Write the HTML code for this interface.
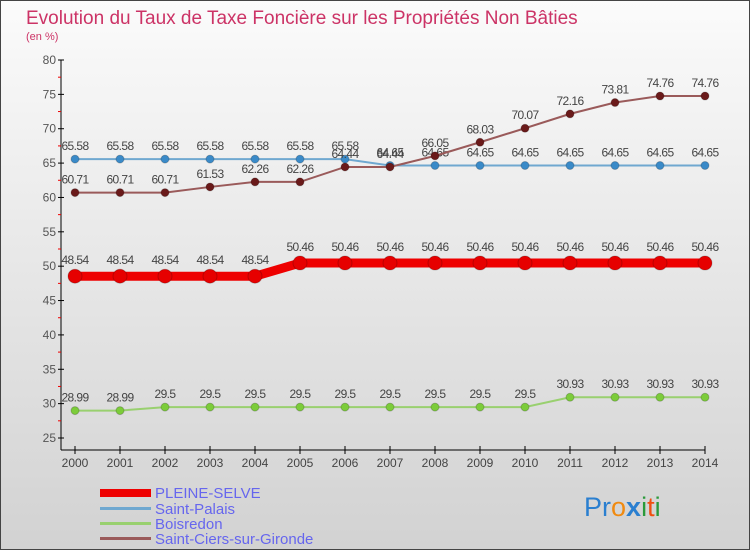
<!DOCTYPE html>
<html><head><meta charset="utf-8"><style>
html,body{margin:0;padding:0}
body{width:750px;height:550px;overflow:hidden;font-family:"Liberation Sans",sans-serif}
</style></head><body>
<svg width="750" height="550" xmlns="http://www.w3.org/2000/svg">
<defs><linearGradient id="bg" x1="0" y1="0" x2="0" y2="1"><stop offset="0" stop-color="#fbfbfb"/><stop offset="1" stop-color="#d2d2d2"/></linearGradient></defs>
<rect x="0.5" y="0.5" width="749" height="549" fill="url(#bg)" stroke="#444"/>
<text x="26" y="24" font-size="19" fill="#cc3366">Evolution du Taux de Taxe Foncière sur les Propriétés Non Bâties</text>
<text x="26" y="40" font-size="11" fill="#cc3366">(en %)</text>
<g id="axes"></g>
<g id="series"></g>
<g>
<rect x="100" y="489" width="51" height="8" fill="#ee0000"/>
<text x="155" y="498" font-size="15" fill="#6666ee">PLEINE-SELVE</text>
<rect x="100" y="507" width="51" height="3" fill="#6fa8d0"/>
<text x="155" y="514" font-size="15" fill="#6666ee">Saint-Palais</text>
<rect x="100" y="522" width="51" height="3" fill="#99d06f"/>
<text x="155" y="529" font-size="15" fill="#6666ee">Boisredon</text>
<rect x="100" y="537" width="51" height="3" fill="#9a5a5a"/>
<text x="155" y="544" font-size="15" fill="#6666ee">Saint-Ciers-sur-Gironde</text>
</g>
<text x="584" y="516" font-size="27"><tspan fill="#2a7fd0">Pr</tspan><tspan fill="#f08a10">o</tspan><tspan fill="#2a7fd0" font-weight="bold">x</tspan><tspan fill="#2a9a3a">i</tspan><tspan fill="#f05010">t</tspan><tspan fill="#2a9a3a">i</tspan></text>
</svg>
<script>
const years=[2000,2001,2002,2003,2004,2005,2006,2007,2008,2009,2010,2011,2012,2013,2014];
const pleineSelve=[48.54,48.54,48.54,48.54,48.54,50.46,50.46,50.46,50.46,50.46,50.46,50.46,50.46,50.46,50.46];
const saintPalais=[65.58,65.58,65.58,65.58,65.58,65.58,65.58,64.65,64.65,64.65,64.65,64.65,64.65,64.65,64.65];
const boisredon=[28.99,28.99,29.5,29.5,29.5,29.5,29.5,29.5,29.5,29.5,29.5,30.93,30.93,30.93,30.93];
const saintCiers=[60.71,60.71,60.71,61.53,62.26,62.26,64.44,64.44,66.05,68.03,70.07,72.16,73.81,74.76,74.76];
const yTicks=[25,30,35,40,45,50,55,60,65,70,75,80];
const NS="http://www.w3.org/2000/svg";
const x=i=>75+i*45;
const y=v=>60+(80-v)*378/55;
function mk(t,a,p){const e=document.createElementNS(NS,t);for(const k in a)e.setAttribute(k,a[k]);p.appendChild(e);return e;}
const ax=document.getElementById('axes');
const yl=mk('line',{x1:61,y1:60,x2:61,y2:450,stroke:'#000'},ax);


const xl=mk('line',{x1:61,y1:450,x2:x(14),y2:450,stroke:'#000'},ax);


yTicks.forEach(v=>{
  mk('line',{x1:58,y1:y(v),x2:64,y2:y(v),stroke:'#000'},ax);
  if(v<80) mk('line',{x1:58,y1:y(v+2.5),x2:61,y2:y(v+2.5),stroke:'#e00'},ax);
  const t=mk('text',{x:56,y:y(v)+4,'font-size':12,'text-anchor':'end',fill:'#555'},ax);
  t.textContent=v;
  
  
});
years.forEach((yr,i)=>{
  mk('line',{x1:x(i),y1:446,x2:x(i),y2:454,stroke:'#000'},ax);
  const t=mk('text',{x:x(i),y:467,'font-size':12,'text-anchor':'middle',fill:'#444'},ax);
  t.textContent=yr;
  
  
});
const sg=document.getElementById('series');
function series(vals,name,col,dot,w,r){
  const g=mk('g',{},sg);
  
  
  const pl=mk('polyline',{points:vals.map((v,i)=>x(i)+','+y(v)).join(' '),fill:'none',stroke:col,'stroke-width':w},g);
  
  
  vals.forEach((v,i)=>{
    const c=mk('circle',{cx:x(i),cy:y(v),r:r,fill:dot,stroke:'rgba(0,0,0,0.2)'},g);
    
    
    const t=mk('text',{x:x(i),y:y(v)-r-5,'font-size':12,'text-anchor':'middle',fill:'#444','letter-spacing':'-0.6'},g);
    t.textContent=v;
    
    
  });
}
series(boisredon,'boisredon','#99d06f','#7ccc3a',2,4);
series(saintPalais,'saint-palais','#6fa8d0','#3a8ac8',2,4);
series(saintCiers,'saint-ciers','#9a5a5a','#6a1a1a',2,4);
series(pleineSelve,'pleine-selve','#ee0000','#e60000',9,7);
</script>
</body></html>
